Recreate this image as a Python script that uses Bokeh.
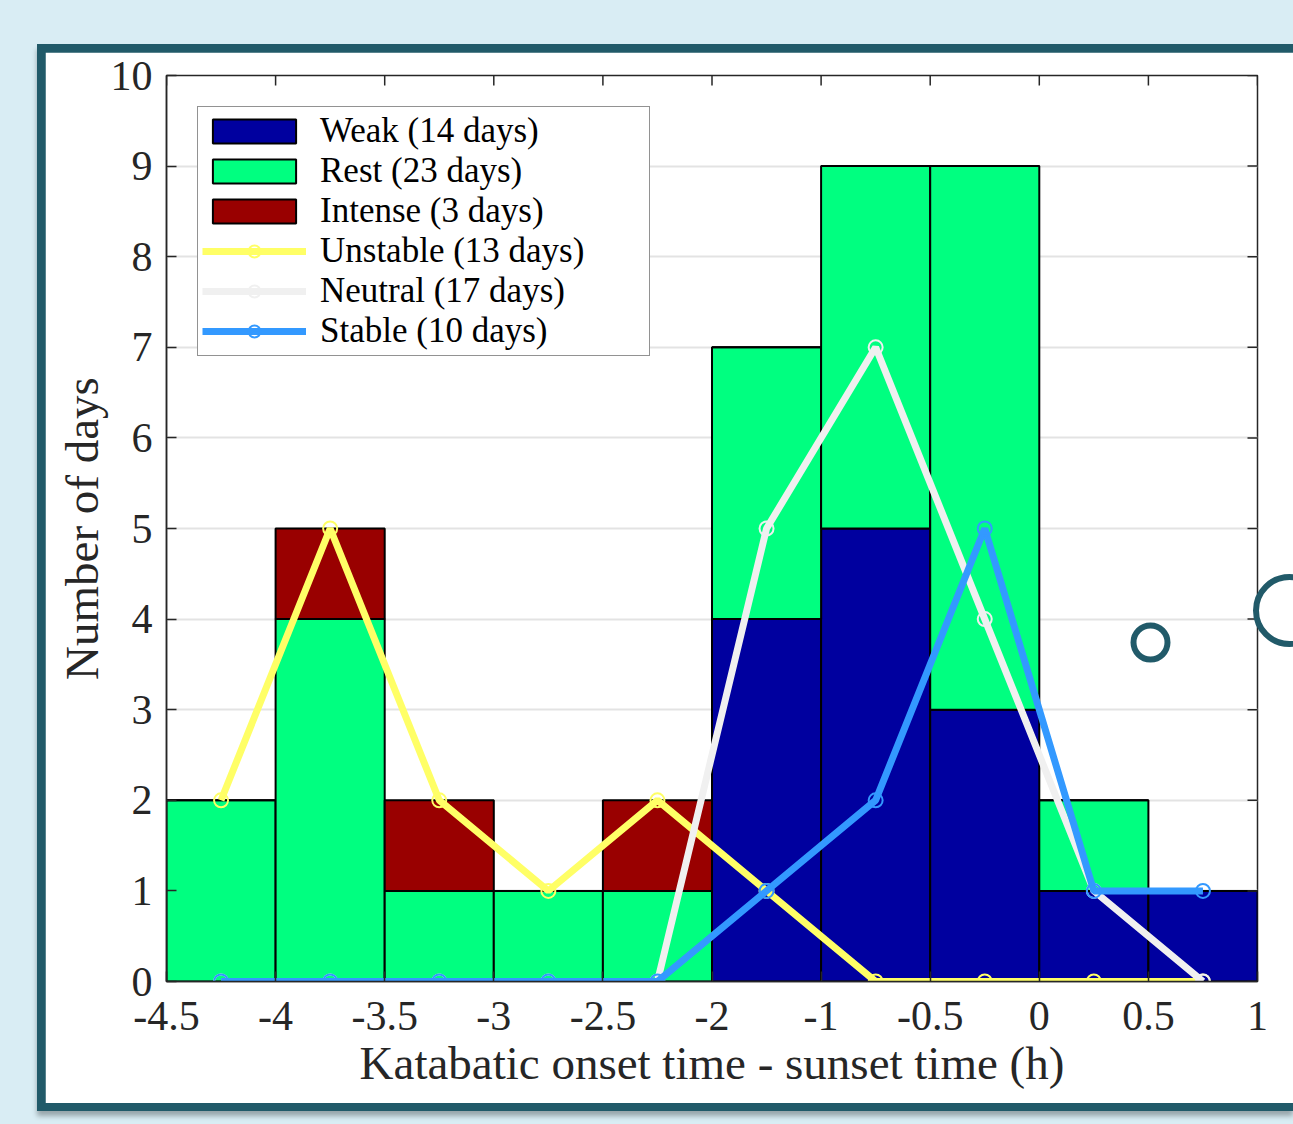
from bokeh.plotting import figure
from bokeh.layouts import column
from bokeh.models import (ColumnDataSource, FixedTicker, Range1d,
                          BoxAnnotation, Legend, LegendItem, Div)
from bokeh.embed import file_html
from bokeh.resources import INLINE

# ---- data ----
tick_labels = ["-4.5", "-4", "-3.5", "-3", "-2.5", "-2", "-1", "-0.5", "0", "0.5", "1"]
weak = [0, 0, 0, 0, 0, 4, 5, 3, 1, 1]
rest = [2, 4, 1, 1, 1, 3, 4, 6, 1, 0]
intense = [0, 1, 1, 0, 1, 0, 0, 0, 0, 0]
unstable = [2, 5, 2, 1, 2, 1, 0, 0, 0, 0]
neutral = [0, 0, 0, 0, 0, 5, 7, 4, 1, 0]
stable = [0, 0, 0, 0, 0, 1, 2, 5, 1, 1]
y_ticks = list(range(0, 11))

bar_names = ["Weak (14 days)", "Rest (23 days)", "Intense (3 days)"]
line_names = ["Unstable (13 days)", "Neutral (17 days)", "Stable (10 days)"]

# ---- styles ----
FONT = "Liberation Serif"
TXT = "#262626"
BAR_COLORS = ["#00009f", "#00ff80", "#990000"]
LINE_COLORS = ["#ffff66", "#f0f0f0", "#3399ff"]
TEAL = "#215a69"
PAGE = "#d9edf4"

# page geometry: panel starts at (37,44), border 8px, plot canvas inside
OX, OY, BW = 37, 44, 8
W = 1293 - OX - BW          # canvas width (runs to window edge)
H = 1103 - OY - BW          # canvas height
FL, FR, FT, FB = 166 - OX - BW, 1293 - 1257, 75 - OY - BW, 1103 - 981
frame_w, frame_h = W - FL - FR, H - FT - FB

nbin = len(weak)
xc = [i + 0.5 for i in range(nbin)]
src = ColumnDataSource(dict(x=xc, weak=weak, rest=rest, intense=intense,
                            unstable=unstable, neutral=neutral, stable=stable))

ymax = y_ticks[-1]
p = figure(width=W, height=H, x_range=Range1d(0, nbin), y_range=Range1d(0, ymax),
           output_backend="svg", toolbar_location=None,
           min_border_left=FL, min_border_right=FR, min_border_top=FT, min_border_bottom=FB,
           background_fill_color="white", border_fill_color="white")
p.outline_line_color = TXT
p.outline_line_width = 1.5
p.margin = (BW, 0, BW, BW)

bars = p.vbar_stack(["weak", "rest", "intense"], x="x", width=1.0, source=src,
                    color=BAR_COLORS, line_color="black", line_width=2)

items = [LegendItem(label=n, renderers=[r]) for n, r in zip(bar_names, bars)]
for col, name, c in zip(["unstable", "neutral", "stable"], line_names, LINE_COLORS):
    l = p.line("x", col, source=src, line_color=c, line_width=7)
    s = p.scatter("x", col, source=src, marker="circle", size=14, fill_color=None,
                  line_color=c, line_width=2)
    items.append(LegendItem(label=name, renderers=[l, s]))

legend = Legend(items=items, location="top_left", margin=31,
                glyph_width=104, glyph_height=30, padding=4, spacing=0,
                label_standoff=14, label_width=325,
                label_text_font=FONT, label_text_font_size="35px", label_text_color="black",
                label_text_line_height=0.9,
                border_line_color=TXT, border_line_width=1.5,
                background_fill_color="white", background_fill_alpha=1.0)
p.add_layout(legend)

xt = FixedTicker(ticks=list(range(len(tick_labels))))
yt = FixedTicker(ticks=y_ticks)
overrides = {i: lab for i, lab in enumerate(tick_labels)}

def style(ax):
    ax.axis_line_color = TXT
    ax.axis_line_width = 1.5
    ax.major_tick_line_color = TXT
    ax.major_tick_line_width = 1.5
    ax.major_tick_in = 10
    ax.major_tick_out = 0
    ax.minor_tick_line_color = None
    ax.major_label_text_font = FONT
    ax.major_label_text_font_size = "42px"
    ax.major_label_text_color = TXT
    ax.axis_label_text_font = FONT
    ax.axis_label_text_font_size = "47px"
    ax.axis_label_text_font_style = "normal"
    ax.axis_label_text_color = TXT

xa = p.xaxis[0]
xa.ticker = xt
xa.major_label_overrides = overrides
xa.axis_label = "Katabatic onset time - sunset time (h)"
style(xa)
xa.major_label_standoff = 20
xa.axis_label_standoff = 4

ya = p.yaxis[0]
ya.ticker = yt
ya.axis_label = "Number of days"
style(ya)
ya.major_label_standoff = 14
ya.axis_label_standoff = 0

# mirrored inward ticks on top and right edges (box style)
tick_px = 10
dy = tick_px * ymax / frame_h
dx = tick_px * nbin / frame_w
xt_pos = list(range(len(tick_labels)))
p.segment(x0=xt_pos, y0=[ymax] * len(xt_pos), x1=xt_pos, y1=[ymax - dy] * len(xt_pos),
          line_color=TXT, line_width=1.5)
p.segment(x0=[nbin] * len(y_ticks), y0=y_ticks, x1=[nbin - dx] * len(y_ticks), y1=y_ticks,
          line_color=TXT, line_width=1.5)

p.xgrid.visible = False
p.ygrid.ticker = yt
p.ygrid.grid_line_color = "#e3e3e3"
p.ygrid.grid_line_width = 2

# small decorative ring (inside the plot frame)
cx, cy, r = 1150 - OX - BW, 642 - OY - BW, 17
p.add_layout(BoxAnnotation(left=cx - r, right=cx + r, top=cy - r, bottom=cy + r,
                           left_units="canvas", right_units="canvas",
                           top_units="canvas", bottom_units="canvas",
                           border_radius=r, fill_color=None, line_color=TEAL,
                           line_alpha=1.0, line_width=6, level="overlay"))

# large decorative ring at the page edge (outside the plot frame)
ring = Div(text="", width=73, height=73,
           styles={"position": "absolute", "left": "1248px", "top": "569px",
                   "box-sizing": "border-box",
                   "border": "6px solid " + TEAL, "border-radius": "50%",
                   "background": "transparent", "z-index": "10"})

panel = column(p, margin=(OY, 0, 1124 - 1111, OX),
               styles={"background-color": TEAL,
                       "box-shadow": "0px 5px 5px rgba(0,0,0,0.30)"})
page = column(panel, ring, styles={"background-color": PAGE})

open("out.html", "w").write(file_html(page, INLINE))
